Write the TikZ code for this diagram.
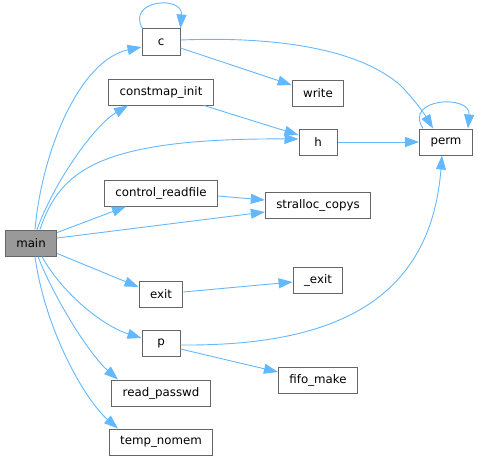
\documentclass[tikz,border=0pt]{standalone}
\usepackage{fontspec}
\setmainfont{DejaVu Sans}
\usetikzlibrary{arrows.meta}
\definecolor{edgeblue}{HTML}{63B8FF}
\definecolor{boxgrey}{HTML}{666666}
\definecolor{mainfill}{HTML}{999999}

\begin{document}
\begin{tikzpicture}[x=1pt,y=-1pt,
    fn/.style={draw=boxgrey,line width=1pt,fill=white,font=\fontsize{11.8}{14}\selectfont,
      inner xsep=11pt,inner ysep=0pt,minimum width=38pt,minimum height=26pt},
    root/.style={fn,fill=mainfill},
    arr/.style={-{Triangle[length=14pt,width=10pt]},edgeblue,line width=0.9pt}]
  \useasboundingbox (0,0) rectangle (478,460);
  % callers column
  \node[root](main) at (31,243){main};
  \node[fn](c) at (161,42){c};
  \node[fn](cinit) at (161,92){constmap\_init};
  \node[fn](cread) at (161,193){control\_readfile};
  \node[fn](exit) at (161,294){exit};
  \node[fn](p) at (161,343){p};
  \node[fn](rpass) at (161,393){read\_passwd};
  \node[fn](tnomem) at (161,442){temp\_nomem};
  % callees
  \node[fn](write) at (318,93){write};
  \node[fn](h) at (318,142){h};
  \node[fn](scopys) at (318,205){stralloc\_copys};
  \node[fn](uexit) at (318,280){\_exit};
  \node[fn](fifo) at (318,380){fifo\_make};
  \node[fn](perm) at (446,142){perm};
  % calls from main
  \draw[arr]([xshift=4pt]main.north) .. controls (42,150) and (80,60) .. ([yshift=-5pt]c.west);
  \draw[arr]([xshift=6pt]main.north) .. controls (55,180) and (95,125) .. ([xshift=-33pt]cinit.south);
  \draw[arr]([xshift=9pt]main.north) .. controls (60,170) and (100,138) .. ([yshift=3pt]h.west);
  \draw[arr]([yshift=-3pt]main.north east) -- ([xshift=-35pt]cread.south);
  \draw[arr]([yshift=5pt]main.east) -- ([yshift=-7pt]scopys.west);
  \draw[arr]([yshift=3pt]main.south east) -- ([yshift=7pt]exit.west);
  \draw[arr]([xshift=11pt]main.south) .. controls (60,290) and (100,325) .. ([yshift=5pt]p.west);
  \draw[arr]([xshift=7pt]main.south) .. controls (55,300) and (90,355) .. ([xshift=-43pt]rpass.north);
  \draw[arr]([xshift=4pt]main.south) .. controls (45,330) and (85,400) .. ([xshift=-43pt]tnomem.north);
  % other calls
  \draw[arr]([xshift=1pt]c.north west) .. controls (126,0) and (183,-5) .. (c.north east);
  \draw[arr]([yshift=-6pt]c.east) -- ([yshift=8pt]write.west);
  \draw[arr]([yshift=2pt]c.east) .. controls (280,36) and (360,50) .. (400,85)
    .. controls (415,100) and (425,115) .. ([xshift=-13pt]perm.north);
  \draw[arr]([xshift=-10pt]cinit.south east) -- ([yshift=7pt]h.west);
  \draw[arr](h.east) -- (perm.west);
  \draw[arr]([xshift=4pt]perm.north west) .. controls (403,98) and (471,94) .. ([xshift=-5pt]perm.north east);
  \draw[arr]([yshift=-3pt]cread.east) -- ([yshift=5pt]scopys.west);
  \draw[arr]([yshift=2pt]exit.east) -- ([yshift=-2pt]uexit.west);
  \draw[arr]([yshift=-2pt]p.east) .. controls (320,346) and (430,310) .. ([xshift=-4pt]perm.south);
  \draw[arr]([yshift=-6pt]p.east) -- ([yshift=8pt]fifo.west);
\end{tikzpicture}
\end{document}
